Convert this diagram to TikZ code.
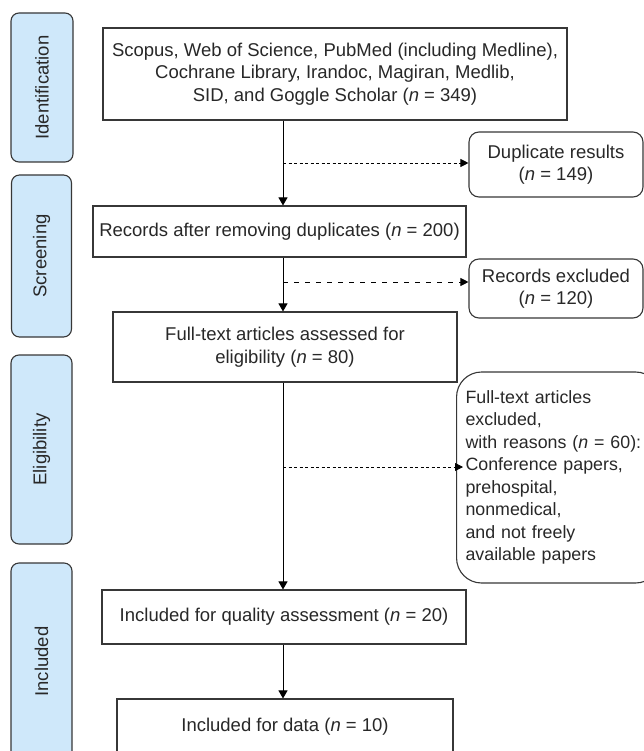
\documentclass[tikz,border=0pt]{standalone}
\usepackage{fontspec}
\setmainfont{Liberation Sans}
\usetikzlibrary{arrows.meta}
\definecolor{sidefill}{RGB}{207,232,250}
\definecolor{ink}{RGB}{40,40,40}
\definecolor{edge}{RGB}{55,55,55}
\begin{document}
\begin{tikzpicture}[x=1pt,y=-1pt,
  every node/.style={font=\fontsize{18.5}{22.5}\selectfont, text=ink},
  mainbox/.style={draw=edge, line width=1.1pt, fill=white, inner sep=0pt, align=center},
  sidebox/.style={draw=edge, line width=1.1pt, fill=sidefill, rounded corners=8pt, inner sep=0pt, rotate=90},
  rbox/.style={draw=edge, line width=1.1pt, fill=white, rounded corners=10pt, inner sep=0pt, align=center},
  flow/.style={draw=black, line width=0.9pt, -{Triangle[length=8pt,width=9pt]}},
  sdash/.style={draw=black, line width=0.9pt, dash pattern=on 3pt off 2.5pt, -{Triangle[length=8pt,width=8pt]}},
  ldash/.style={draw=black, line width=0.9pt, dash pattern=on 5pt off 6pt, -{Triangle[length=8pt,width=8pt]}}
]
\useasboundingbox (0,0) rectangle (644,751);
\clip (0,0) rectangle (644,751);

% side phase labels
\node[sidebox, minimum width=149pt, minimum height=62pt] (ident) at (42,87.5) {Identification};
\node[sidebox, minimum width=162pt, minimum height=60pt] (screen) at (41.5,256) {Screening};
\node[sidebox, minimum width=189pt, minimum height=61pt] (elig) at (41.5,449.5) {Eligibility};
\node[sidebox, minimum width=197pt, minimum height=61pt] (incl) at (41.5,661.5) {Included};

% main flow boxes
\node[mainbox, minimum width=464pt, minimum height=92pt] (A) at (335,74)
  {Scopus, Web of Science, PubMed (including Medline),\\Cochrane Library, Irandoc, Magiran, Medlib,\\SID, and Goggle Scholar (\textit{n} = 349)};
\node[mainbox, minimum width=373pt, minimum height=51pt] (B) at (279.5,231.5)
  {Records after removing duplicates (\textit{n} = 200)};
\node[mainbox, minimum width=344pt, minimum height=70pt] (C) at (285,347)
  {Full-text articles assessed for\\eligibility (\textit{n} = 80)};
\node[mainbox, minimum width=364pt, minimum height=54pt] (D) at (284,617)
  {Included for quality assessment (\textit{n} = 20)};
\node[mainbox, minimum width=336pt, minimum height=56pt] (E) at (285,727)
  {Included for data (\textit{n} = 10)};

% exclusion boxes
\node[rbox, minimum width=174pt, minimum height=65pt] (F) at (556,164.5)
  {Duplicate results\\(\textit{n} = 149)};
\node[rbox, minimum width=174pt, minimum height=59pt] (G) at (556,288.5)
  {Records excluded\\(\textit{n} = 120)};
\node[rbox, rounded corners=25pt, anchor=west, align=left, text width=186pt,
      inner xsep=9pt, minimum height=211pt, font=\fontsize{17.8}{22.5}\selectfont] (H) at (456,477.5)
  {Full-text articles\\excluded,\\with reasons (\textit{n} = 60):\\Conference papers,\\prehospital,\\nonmedical,\\and not freely\\available papers};

% connectors
\coordinate (spine) at (283,0);
\draw[flow] (A.south -| spine) -- (B.north -| spine);
\draw[flow] (B.south -| spine) -- (C.north -| spine);
\draw[flow] (C.south -| spine) -- (D.north -| spine);
\draw[flow] (D.south -| spine) -- (E.north -| spine);

\coordinate (d1) at (283,163);
\coordinate (d2) at (283,282);
\coordinate (d3) at (283,467);
\draw[sdash] (d1) -- (d1 -| F.west);
\draw[ldash] (d2) -- (d2 -| G.west);
\draw[sdash] (d3) -- ([xshift=7pt]d3 -| H.west);
\end{tikzpicture}
\end{document}
